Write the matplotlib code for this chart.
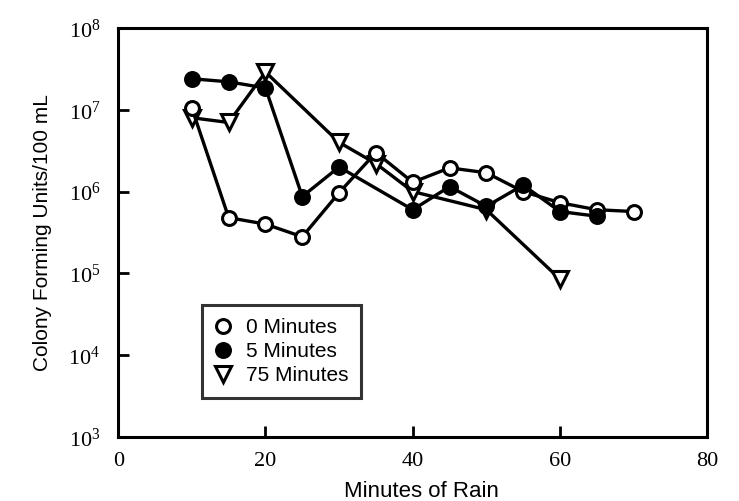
import matplotlib
matplotlib.use("Agg")
import matplotlib.pyplot as plt
from matplotlib.ticker import FixedLocator, NullLocator

plt.rcParams['mathtext.fontset'] = 'custom'
plt.rcParams['mathtext.rm'] = 'Liberation Serif'
plt.rcParams['mathtext.it'] = 'Liberation Serif:italic'

# Data
x0 = [10, 15, 20, 25, 30, 35, 40, 45, 50, 55, 60, 65, 70]
y0 = [1.05e7, 4.8e5, 4.0e5, 2.8e5, 9.7e5, 3.0e6, 1.3e6, 1.95e6, 1.7e6, 1.0e6, 7.3e5, 6.0e5, 5.7e5]

x5 = [10, 15, 20, 25, 30, 40, 45, 50, 55, 60, 65]
y5 = [2.4e7, 2.2e7, 1.85e7, 8.7e5, 2.0e6, 6.0e5, 1.15e6, 6.6e5, 1.2e6, 5.7e5, 5.0e5]

x75 = [10, 15, 20, 30, 35, 40, 50, 60]
y75 = [8.0e6, 7.0e6, 2.9e7, 4.0e6, 2.2e6, 1.0e6, 6.0e5, 8.5e4]

labels = ["0 Minutes", "5 Minutes", "75 Minutes"]
xticks = [0, 20, 40, 60, 80]
yticks = [1e3, 1e4, 1e5, 1e6, 1e7, 1e8]
ytick_labels = [r'$10^{3}$', r'$10^{4}$', r'$10^{5}$', r'$10^{6}$', r'$10^{7}$', r'$10^{8}$']

fig = plt.figure(figsize=(7.39, 5.01), dpi=100)
ax = fig.add_axes([0.160, 0.128, 0.797, 0.816])

lw = 2.4
ax.plot(x0, y0, color='black', lw=lw, marker='o', ms=10, mfc='white', mec='black', mew=2.2, label=labels[0], zorder=3)
ax.plot(x5, y5, color='black', lw=lw, marker='o', ms=10, mfc='black', mec='black', mew=2.2, label=labels[1], zorder=4)
ax.plot(x75, y75, color='black', lw=lw, marker='v', ms=11, mfc='white', mec='black', mew=2.2, label=labels[2], zorder=2)

ax.set_yscale('log')
ax.set_xlim(0, 80)
ax.set_ylim(1e3, 1e8)
ax.xaxis.set_major_locator(FixedLocator(xticks))
ax.yaxis.set_major_locator(FixedLocator(yticks))
ax.yaxis.set_minor_locator(NullLocator())
ax.set_yticklabels(ytick_labels)
ax.set_xticklabels([str(t) for t in xticks])

ax.tick_params(axis='both', direction='in', length=8, width=2)
ax.tick_params(axis='x', labelsize=16, pad=11)
ax.tick_params(axis='y', labelsize=16, pad=13)
for lab in ax.get_xticklabels():
    lab.set_fontfamily('Liberation Serif')
for sp in ax.spines.values():
    sp.set_linewidth(2.2)

ax.set_xlabel("Minutes of Rain", fontsize=16, family='Liberation Sans')
ax.xaxis.set_label_coords(0.515, -0.108)
ax.set_ylabel("Colony Forming Units/100 mL", fontsize=15, family='Liberation Sans')
ax.yaxis.set_label_coords(-0.113, 0.5)

leg = ax.legend(loc='lower left', bbox_to_anchor=(0.125, 0.07), frameon=True, fancybox=False,
                edgecolor='black', handlelength=0.8, handletextpad=0.7,
                borderpad=0.6, labelspacing=0.25, prop={'family': 'Liberation Sans', 'size': 15})
leg.get_frame().set_linewidth(2.2)
for h in leg.legend_handles:
    h.set_linestyle('None')

fig.savefig('out.png', dpi=100)
